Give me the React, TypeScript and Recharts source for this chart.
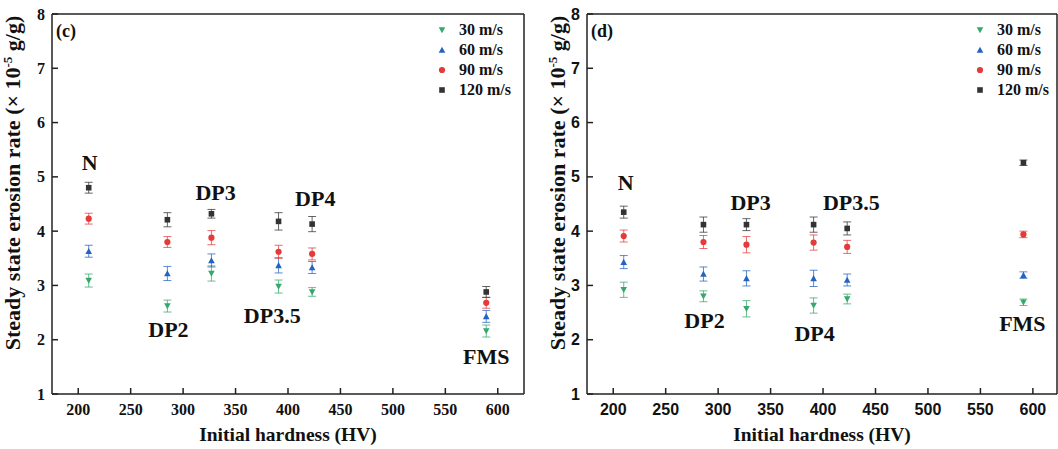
import { ScatterChart, Scatter, XAxis, YAxis, ErrorBar, ReferenceLine } from 'recharts'

// panel (c)
const hardnessC = [210, 285, 327, 391, 423, 589]
const rateC30 = [3.09, 2.62, 3.22, 2.98, 2.88, 2.16]
const errC30 = [0.12, 0.11, 0.14, 0.12, 0.08, 0.11]
const rateC60 = [3.63, 3.22, 3.46, 3.37, 3.33, 2.43]
const errC60 = [0.11, 0.13, 0.12, 0.14, 0.11, 0.11]
const rateC90 = [4.23, 3.8, 3.88, 3.62, 3.58, 2.68]
const errC90 = [0.1, 0.1, 0.13, 0.12, 0.11, 0.1]
const rateC120 = [4.8, 4.21, 4.32, 4.18, 4.13, 2.88]
const errC120 = [0.1, 0.13, 0.08, 0.16, 0.14, 0.1]
const labelsC = ['N', 'DP2', 'DP3', 'DP3.5', 'DP4', 'FMS']
const labelXC = [211, 286, 331, 385, 426, 589]
const labelYC = [5.27, 2.19, 4.72, 2.45, 4.61, 1.7]

// panel (d)
const hardnessD = [210, 286, 327, 391, 423, 591]
const rateD30 = [2.92, 2.8, 2.57, 2.63, 2.75, 2.69]
const errD30 = [0.14, 0.1, 0.15, 0.14, 0.09, 0.06]
const rateD60 = [3.43, 3.21, 3.13, 3.13, 3.1, 3.19]
const errD60 = [0.12, 0.13, 0.14, 0.15, 0.11, 0.06]
const rateD90 = [3.91, 3.8, 3.75, 3.79, 3.71, 3.94]
const errD90 = [0.11, 0.12, 0.15, 0.14, 0.12, 0.06]
const rateD120 = [4.35, 4.12, 4.12, 4.12, 4.05, 5.26]
const errD120 = [0.11, 0.14, 0.11, 0.14, 0.12, 0.05]
const labelsD = ['N', 'DP2', 'DP3', 'DP4', 'DP3.5', 'FMS']
const labelXD = [212, 287, 331, 392, 427, 590]
const labelYD = [4.89, 2.35, 4.52, 2.12, 4.53, 2.29]

const speeds = ['30 m/s', '60 m/s', '90 m/s', '120 m/s']
const colors = ['#35a86b', '#2463c4', '#e43a3a', '#333333']
const kinds = ['down', 'up', 'circle', 'square']

const xTicks = [200, 250, 300, 350, 400, 450, 500, 550, 600]
const yTicks = [1, 2, 3, 4, 5, 6, 7, 8]

const serif = '"Liberation Serif", "Times New Roman", serif'
const sans = '"Liberation Sans", Arial, sans-serif'

function Marker({ cx, cy, kind, color }: any) {
    if (kind === 'down') return <path d={`M${cx - 3.3},${cy - 2.8} L${cx + 3.3},${cy - 2.8} L${cx},${cy + 3.3} Z`} fill={color} />
    if (kind === 'up') return <path d={`M${cx - 3.3},${cy + 2.8} L${cx + 3.3},${cy + 2.8} L${cx},${cy - 3.3} Z`} fill={color} />
    if (kind === 'circle') return <circle cx={cx} cy={cy} r={3.1} fill={color} />
    return <rect x={cx - 2.8} y={cy - 2.8} width={5.6} height={5.6} fill={color} />
}

// ticks point inward, so the tick line is drawn with the label
function XTick({ x, y, payload, font }: any) {
    return (
        <g>
            <line x1={x} x2={x} y1={y - 21} y2={y - 27} stroke="#222" strokeWidth={1.5} />
            <text x={x} y={y} textAnchor="middle" fontFamily={font} fontWeight="bold" fontSize={16} fill="#111">
                {payload.value}
            </text>
        </g>
    )
}

function YTick({ x, y, payload, font }: any) {
    return (
        <g>
            <line x1={x + 7} x2={x + 13} y1={y} y2={y} stroke="#222" strokeWidth={1.5} />
            <text x={x} y={y} dy="0.35em" textAnchor="end" fontFamily={font} fontWeight="bold" fontSize={16} fill="#111">
                {payload.value}
            </text>
        </g>
    )
}

function Panel({ tag, hardness, rates, errs, labels, labelX, labelY, xMax, plotLeft, right, tickFont, titleX, legendX }: any) {
    const axisStroke = { stroke: '#222', strokeWidth: 1.5 }
    const labelData = labels.map((name: string, i: number) => ({ x: labelX[i], y: labelY[i], name }))
    const plotCenter = plotLeft + (529 - right - plotLeft) / 2

    return (
        <div style={{ position: 'absolute', top: 0, left: 0, width: 529, height: 449 }}>
            <ScatterChart width={529} height={449} margin={{ top: 14, right, bottom: 0, left: 0 }}>
                <XAxis
                    type="number"
                    dataKey="x"
                    domain={[175, xMax]}
                    ticks={xTicks}
                    allowDataOverflow
                    height={55}
                    tickSize={0}
                    tickMargin={21}
                    axisLine={axisStroke}
                    tickLine={false}
                    tick={(p: any) => <XTick {...p} font={tickFont} />}
                />
                <YAxis
                    type="number"
                    dataKey="y"
                    domain={[1, 8]}
                    ticks={yTicks}
                    allowDataOverflow
                    width={plotLeft}
                    tickSize={0}
                    tickMargin={7}
                    axisLine={axisStroke}
                    tickLine={false}
                    tick={(p: any) => <YTick {...p} font={tickFont} />}
                />
                <ReferenceLine y={8} stroke="#222" strokeWidth={1.5} />
                <ReferenceLine x={xMax} stroke="#222" strokeWidth={1.5} />
                {speeds.map((s, k) => (
                    <Scatter
                        key={s}
                        name={s}
                        data={hardness.map((h: number, i: number) => ({ x: h, y: rates[k][i], err: errs[k][i] }))}
                        shape={(p: any) => <Marker cx={p.cx} cy={p.cy} kind={kinds[k]} color={colors[k]} />}
                        isAnimationActive={false}
                    >
                        <ErrorBar dataKey="err" direction="y" width={4} stroke={colors[k]} strokeWidth={1} strokeOpacity={0.75} />
                    </Scatter>
                ))}
                <Scatter
                    data={labelData}
                    isAnimationActive={false}
                    shape={(p: any) => (
                        <text x={p.cx} y={p.cy} textAnchor="middle" dominantBaseline="central" fontFamily={serif} fontWeight="bold" fontSize={22} fill="#111">
                            {p.payload.name}
                        </text>
                    )}
                />
            </ScatterChart>
            <svg width={529} height={449} style={{ position: 'absolute', top: 0, left: 0, pointerEvents: 'none' }}>
                <text x={plotCenter} y={441} textAnchor="middle" fontFamily={serif} fontWeight="bold" fontSize={19.5} fill="#111">
                    Initial hardness (HV)
                </text>
                <text x={titleX} y={183} transform={`rotate(-90, ${titleX}, 183)`} textAnchor="middle" fontFamily={serif} fontWeight="bold" fontSize={22} fill="#111">
                    <tspan>Steady state erosion rate (× 10</tspan>
                    <tspan fontSize={13} dy={-8}>-5</tspan>
                    <tspan dy={8}> g/g)</tspan>
                </text>
            </svg>
            <div style={{ position: 'absolute', left: plotLeft + 4, top: 21, fontFamily: serif, fontWeight: 'bold', fontSize: 18, color: '#111' }}>
                {tag}
            </div>
            <div style={{ position: 'absolute', left: legendX - 6, top: 19.5, fontFamily: serif, fontWeight: 'bold', fontSize: 16, color: '#111' }}>
                {speeds.map((s, k) => (
                    <div key={s} style={{ display: 'flex', alignItems: 'center', height: 20.2 }}>
                        <svg width={12} height={12} style={{ marginRight: 11 }}>
                            <Marker cx={6} cy={6} kind={kinds[k]} color={colors[k]} />
                        </svg>
                        <span>{s}</span>
                    </div>
                ))}
            </div>
        </div>
    )
}

export default function App() {
    return (
        <div style={{ position: 'fixed', top: 0, left: 0, width: 1058, height: 449, background: '#fff' }}>
            <div style={{ position: 'absolute', left: 0, top: 0 }}>
                <Panel
                    tag="(c)"
                    hardness={hardnessC}
                    rates={[rateC30, rateC60, rateC90, rateC120]}
                    errs={[errC30, errC60, errC90, errC120]}
                    labels={labelsC}
                    labelX={labelXC}
                    labelY={labelYC}
                    xMax={625}
                    plotLeft={52}
                    right={5}
                    tickFont={serif}
                    titleX={20}
                    legendX={442}
                />
            </div>
            <div style={{ position: 'absolute', left: 529, top: 0 }}>
                <Panel
                    tag="(d)"
                    hardness={hardnessD}
                    rates={[rateD30, rateD60, rateD90, rateD120]}
                    errs={[errD30, errD60, errD90, errD120]}
                    labels={labelsD}
                    labelX={labelXD}
                    labelY={labelYD}
                    xMax={623}
                    plotLeft={58}
                    right={1}
                    tickFont={sans}
                    titleX={36}
                    legendX={451}
                />
            </div>
        </div>
    )
}
